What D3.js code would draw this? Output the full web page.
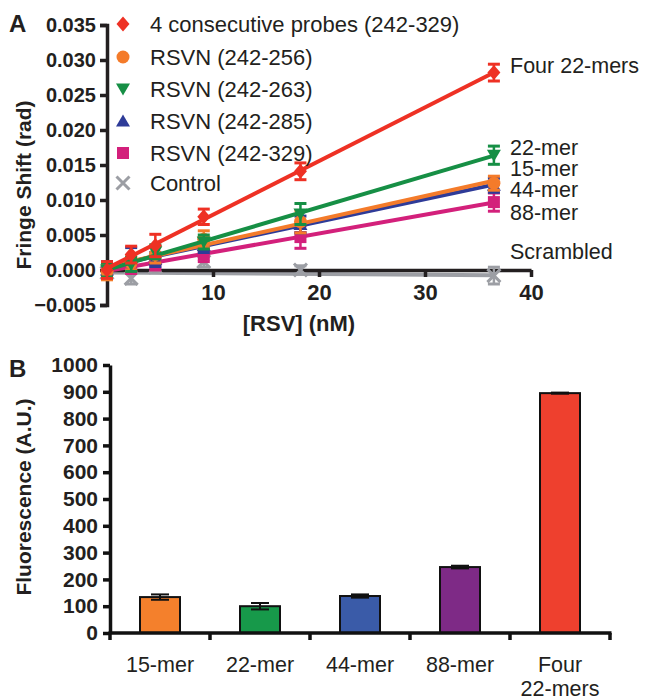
<!DOCTYPE html>
<html><head><meta charset="utf-8">
<script src="https://cdn.jsdelivr.net/npm/d3@7"></script>
<style>
body{margin:0;background:#fff;}
svg{display:block;font-family:"Liberation Sans",Arial,Helvetica,sans-serif;}
</style></head>
<body>
<svg id="c" width="646" height="699"></svg>
<script>
// ---------- Panel A data ----------
const conc = [0, 2.28, 4.56, 9.13, 18.25, 36.5];
const legendNames = ["4 consecutive probes (242-329)", "RSVN (242-256)", "RSVN (242-263)", "RSVN (242-285)", "RSVN (242-329)", "Control"];
const seriesColors = ["#EE3124", "#F47B2A", "#168F45", "#2E3B98", "#D3207B", "#9C9EA4"];
const seriesSymbols = ["diamond", "circle", "triDown", "triUp", "square", "cross"];
const redVals    = [0.0000, 0.0022, 0.0035, 0.0076, 0.0141, 0.0282];
const redErr     = [0.0012, 0.0012, 0.0016, 0.0011, 0.0012, 0.0012];
const orangeVals = [-0.0002, 0.0010, 0.0022, 0.0044, 0.0069, 0.0124];
const orangeErr  = [0.0012, 0.0010, 0.0012, 0.0012, 0.0016, 0.0010];
const greenVals  = [0.0000, 0.0008, 0.0026, 0.0040, 0.0080, 0.0164];
const greenErr   = [0.0010, 0.0010, 0.0010, 0.0010, 0.0015, 0.0013];
const blueVals   = [0.0000, 0.0020, 0.0015, 0.0035, 0.0065, 0.0121];
const blueErr    = [0.0012, 0.0012, 0.0010, 0.0010, 0.0012, 0.0010];
const pinkVals   = [0.0000, 0.0005, 0.0010, 0.0022, 0.0047, 0.0097];
const pinkErr    = [0.0010, 0.0010, 0.0010, 0.0010, 0.0016, 0.0013];
const grayVals   = [-0.0004, -0.0012, 0.0004, 0.0012, 0.0000, -0.0008];
const grayErr    = [0.0008, 0.0008, 0.0006, 0.0008, 0.0006, 0.0012];
const yTicksA = [-0.005, 0, 0.005, 0.010, 0.015, 0.020, 0.025, 0.030, 0.035];
const xTicksA = [10, 20, 30, 40];
const endLabels = ["Four 22-mers", "22-mer", "15-mer", "44-mer", "88-mer", "Scrambled"];
const endLabelY = [0.0293, 0.0176, 0.0145, 0.0116, 0.0083, 0.0027];

// ---------- Panel B data ----------
const barCats = ["15-mer", "22-mer", "44-mer", "88-mer", "Four\n22-mers"];
const barVals = [134, 100, 138, 246, 895];
const barErr  = [10, 12, 6, 5, 2];
const barColors = ["#F4802C", "#17994A", "#3A5BA8", "#7E2A86", "#EE402E"];
const yTicksB = [0, 100, 200, 300, 400, 500, 600, 700, 800, 900, 1000];

const svg = d3.select("#c");

// ================= Panel A =================
const xA = d3.scaleLinear().domain([0, 40]).range([107, 531]);
const yA = d3.scaleLinear().domain([-0.005, 0.035]).range([305, 25]);

const series = [redVals, orangeVals, greenVals, blueVals, pinkVals, grayVals].map((v, i) => ({
  name: legendNames[i], color: seriesColors[i], sym: seriesSymbols[i],
  vals: v, err: [redErr, orangeErr, greenErr, blueErr, pinkErr, grayErr][i]
}));

function fit(xs, ys) {
  const n = xs.length, mx = d3.mean(xs), my = d3.mean(ys);
  let sxy = 0, sxx = 0;
  for (let i = 0; i < n; i++) { sxy += (xs[i]-mx)*(ys[i]-my); sxx += (xs[i]-mx)**2; }
  const b = sxy / sxx; return { b, a: my - b*mx };
}

function drawSym(g, sym, x, y, color) {
  const s = 6.5;
  if (sym === "diamond") g.append("path").attr("d", `M${x},${y-s-1}L${x+s},${y}L${x},${y+s+1}L${x-s},${y}Z`).attr("fill", color);
  else if (sym === "circle") g.append("circle").attr("cx", x).attr("cy", y).attr("r", s).attr("fill", color);
  else if (sym === "triDown") g.append("path").attr("d", `M${x-s-0.5},${y-s+1}L${x+s+0.5},${y-s+1}L${x},${y+s}Z`).attr("fill", color);
  else if (sym === "triUp") g.append("path").attr("d", `M${x-s-0.5},${y+s-1}L${x+s+0.5},${y+s-1}L${x},${y-s}Z`).attr("fill", color);
  else if (sym === "square") g.append("rect").attr("x", x-s+0.5).attr("y", y-s+0.5).attr("width", 2*s-1).attr("height", 2*s-1).attr("fill", color);
  else if (sym === "cross") g.append("path").attr("d", `M${x-s},${y-s}L${x+s},${y+s}M${x+s},${y-s}L${x-s},${y+s}`).attr("stroke", color).attr("stroke-width", 3).attr("fill", "none");
}

// control fit line sits under the axis
{
  const s = series[5];
  const f = fit(conc, s.vals);
  const x1 = conc[conc.length-1];
  svg.append("line").attr("x1", xA(0)).attr("y1", yA(f.a) + 2.5)
    .attr("x2", xA(x1)).attr("y2", yA(f.a + f.b*x1) + 2.5)
    .attr("stroke", s.color).attr("stroke-width", 4);
}

// axes A
const axYA = d3.axisLeft(yA).tickValues(yTicksA).tickFormat(d3.format(".3f")).tickSize(7).tickPadding(4);
const gYA = svg.append("g").attr("transform", `translate(${xA(0)},0)`).call(axYA);
gYA.select(".domain").attr("stroke-width", 3.5).attr("stroke", "#231F20");
gYA.selectAll(".tick line").attr("stroke-width", 3.5).attr("stroke", "#231F20");
gYA.selectAll("text").attr("font-size", 20).attr("font-weight", "bold").attr("fill", "#231F20");

const axXA = d3.axisBottom(xA).tickValues(xTicksA).tickFormat(d3.format("d")).tickSize(7).tickSizeOuter(0).tickPadding(7);
const gXA = svg.append("g").attr("transform", `translate(0,${yA(0)})`).call(axXA);
gXA.select(".domain").attr("stroke-width", 3.5).attr("stroke", "#231F20");
gXA.selectAll(".tick line").attr("stroke-width", 3.5).attr("stroke", "#231F20");
gXA.selectAll("text").attr("font-size", 22).attr("font-weight", "bold").attr("fill", "#231F20");

const gA = svg.append("g");
const drawOrder = [5, 4, 3, 1, 2, 0];
drawOrder.forEach(i => {
  const s = series[i];
  const g = gA.append("g");
  if (i !== 5) {
    const f = fit(conc, s.vals);
    const x1 = conc[conc.length-1];
    g.append("line").attr("x1", xA(0)).attr("y1", yA(f.a))
      .attr("x2", xA(x1)).attr("y2", yA(f.a + f.b*x1))
      .attr("stroke", s.color).attr("stroke-width", 4);
  }
  conc.forEach((c, j) => {
    const x = xA(c), y1 = yA(s.vals[j] + s.err[j]), y2 = yA(s.vals[j] - s.err[j]);
    g.append("line").attr("x1", x).attr("x2", x).attr("y1", y1).attr("y2", y2).attr("stroke", s.color).attr("stroke-width", 2.5);
    [y1, y2].forEach(yy => g.append("line").attr("x1", x-6).attr("x2", x+6).attr("y1", yy).attr("y2", yy).attr("stroke", s.color).attr("stroke-width", 3));
    drawSym(g, s.sym, x, yA(s.vals[j]), s.color);
  });
});

svg.append("text").attr("x", 9).attr("y", 32).attr("font-size", 24).attr("font-weight", "bold").attr("fill", "#231F20").text("A");
svg.append("text").attr("transform", "translate(31,185) rotate(-90)").attr("text-anchor", "middle")
  .attr("font-size", 21).attr("font-weight", "bold").attr("fill", "#231F20").text("Fringe Shift (rad)");
svg.append("text").attr("x", 299).attr("y", 331).attr("text-anchor", "middle")
  .attr("font-size", 22).attr("font-weight", "bold").attr("fill", "#231F20").text("[RSV] (nM)");

// legend
const legY = [24, 57, 89, 121, 153, 183];
series.forEach((s, i) => {
  const g = svg.append("g");
  drawSym(g, s.sym, 123, legY[i], s.color);
  g.append("text").attr("x", 150).attr("y", legY[i]).attr("dy", "0.36em")
    .attr("font-size", 22).attr("fill", "#231F20").text(s.name);
});

// end labels
endLabels.forEach((t, i) => {
  svg.append("text").attr("x", 510).attr("y", yA(endLabelY[i])).attr("dy", "0.36em")
    .attr("font-size", 21.5).attr("fill", "#231F20").text(t);
});

// ================= Panel B =================
const xB = d3.scaleBand().domain(barCats).range([110, 610]).paddingInner(0.6).paddingOuter(0.3);
const yB = d3.scaleLinear().domain([0, 1000]).range([633, 365]);

const gB = svg.append("g");
barCats.forEach((c, i) => {
  gB.append("rect").attr("x", xB(c)).attr("y", yB(barVals[i])).attr("width", xB.bandwidth())
    .attr("height", yB(0) - yB(barVals[i])).attr("fill", barColors[i]).attr("stroke", "#111").attr("stroke-width", 2);
  const cx = xB(c) + xB.bandwidth()/2;
  const y1 = yB(barVals[i] + barErr[i]), y2 = yB(barVals[i] - barErr[i]);
  gB.append("line").attr("x1", cx).attr("x2", cx).attr("y1", y1).attr("y2", y2).attr("stroke", "#111").attr("stroke-width", 2);
  [y1, y2].forEach(yy => gB.append("line").attr("x1", cx-9).attr("x2", cx+9).attr("y1", yy).attr("y2", yy).attr("stroke", "#111").attr("stroke-width", 2));
});

const axYB = d3.axisLeft(yB).tickValues(yTicksB).tickFormat(d3.format("d")).tickSize(7).tickSizeOuter(0).tickPadding(5);
const gYB = svg.append("g").attr("transform", `translate(110,0)`).call(axYB);
gYB.select(".domain").attr("stroke-width", 3.5).attr("stroke", "#111");
gYB.selectAll(".tick line").attr("stroke-width", 3.5).attr("stroke", "#111");
gYB.selectAll("text").attr("font-size", 21).attr("font-weight", "bold").attr("fill", "#231F20");

const gXB = svg.append("g");
gXB.append("line").attr("x1", 108.5).attr("x2", 611.5).attr("y1", yB(0)).attr("y2", yB(0)).attr("stroke", "#111").attr("stroke-width", 3.5);
barCats.forEach((c, i) => {
  const bx = xB(c) + xB.bandwidth()/2 + xB.step()/2;
  gXB.append("line").attr("x1", bx).attr("x2", bx).attr("y1", yB(0)).attr("y2", yB(0)+7).attr("stroke", "#111").attr("stroke-width", 3.5);
  const lines = c.split("\n");
  lines.forEach((ln, k) => {
    gXB.append("text").attr("x", xB(c) + xB.bandwidth()/2).attr("y", 672 + k*24).attr("text-anchor", "middle")
      .attr("font-size", 21.5).attr("fill", "#231F20").text(ln);
  });
});
gXB.append("line").attr("x1", 110).attr("x2", 110).attr("y1", yB(0)).attr("y2", yB(0)+7).attr("stroke", "#111").attr("stroke-width", 3.5);

svg.append("text").attr("x", 9).attr("y", 377).attr("font-size", 24).attr("font-weight", "bold").attr("fill", "#231F20").text("B");
svg.append("text").attr("transform", "translate(31,497) rotate(-90)").attr("text-anchor", "middle")
  .attr("font-size", 21).attr("font-weight", "bold").attr("fill", "#231F20").text("Fluorescence (A.U.)");
</script>
</body></html>
